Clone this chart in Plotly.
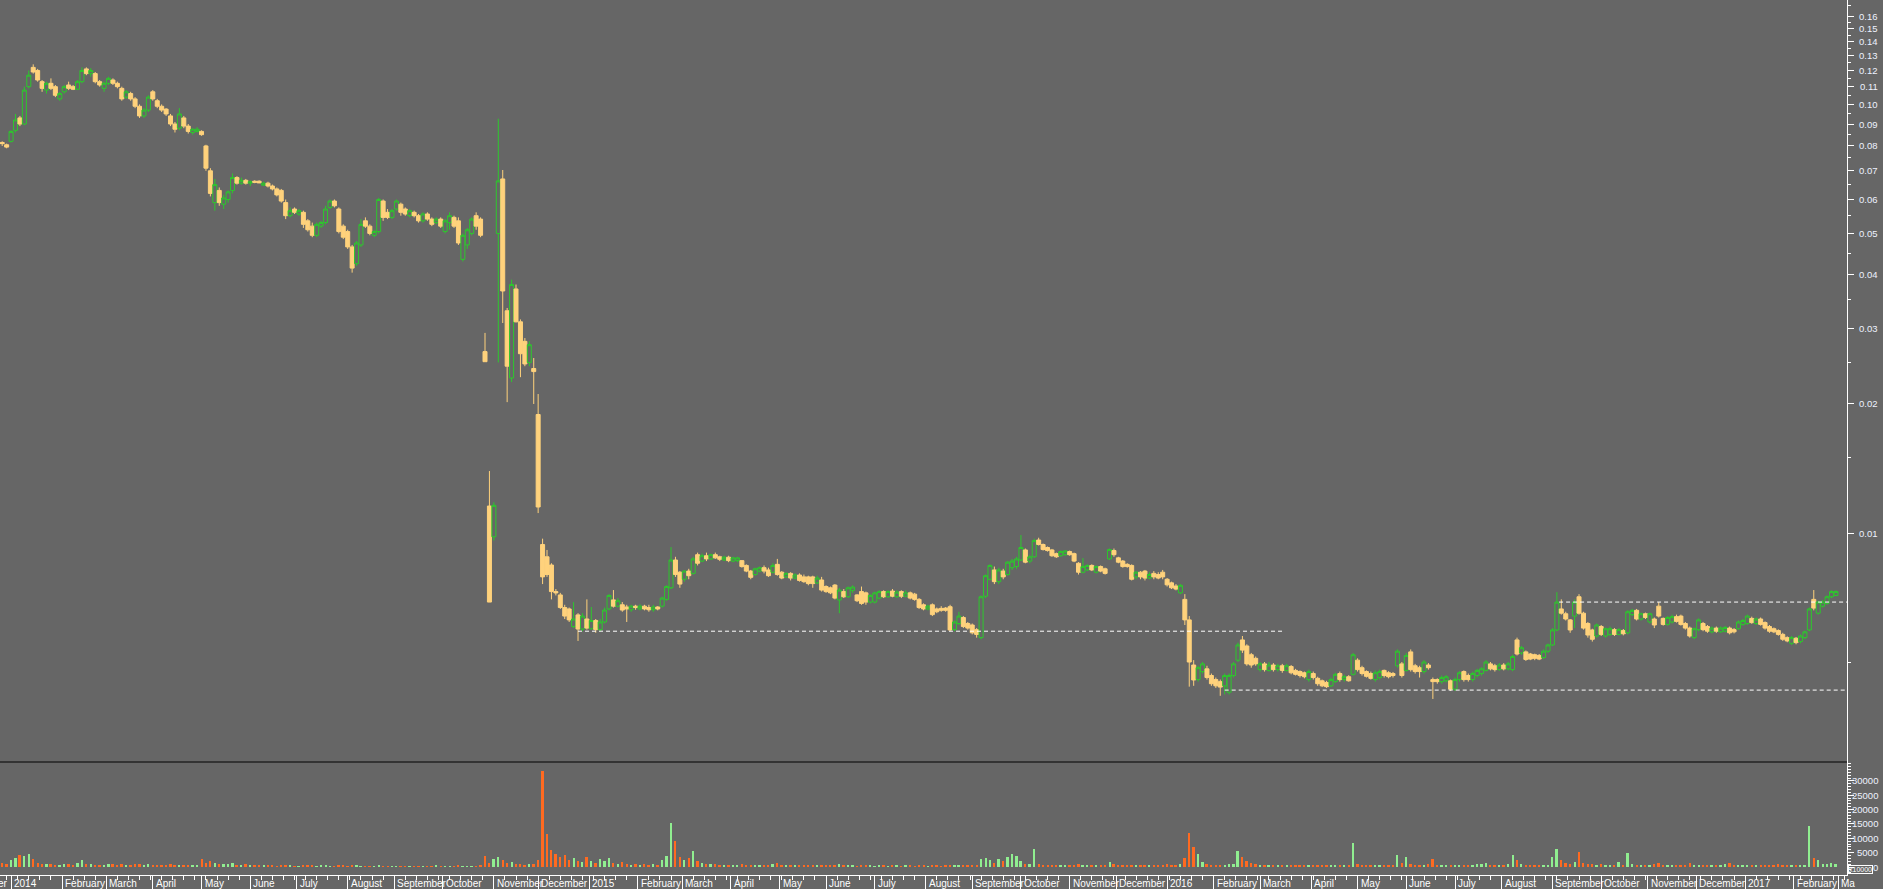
import math
import pandas as pd
import plotly.graph_objects as go

# ---------------- data ----------------
# one candle every second trading day, starting 26 Dec 2013
START = "2013-12-26"
N_DAYS = 834
STEP = 2

# prices in units of 0.00001
open_1e5 = [
    8150, 8050, 8200, 8700, 9300, 9000, 11000, 12200, 12000, 11300,
    10800, 11200, 11000, 10300, 10700, 11100, 11000, 10850, 11300, 12100,
    11800, 11800, 11300, 10900, 11200, 11400, 11200, 10900, 10400, 10600,
    10300, 9900, 9400, 9700, 10700, 10200, 9900, 9750, 9400, 9000,
    8800, 9300, 8900, 8600, 8650, 8650, 8000, 7000, 5900, 6300,
    5850, 6000, 6300, 6750, 6550, 6650, 6550, 6620, 6620, 6480,
    6550, 6450, 6350, 6300, 5900, 5500, 5700, 5550, 5600, 5350,
    5200, 4950, 5200, 5300, 5750, 5950, 5700, 5200, 5050, 4650,
    4250, 4700, 5350, 5200, 4950, 5050, 5950, 5600, 5450, 5700,
    5850, 5700, 5500, 5600, 5500, 5350, 5550, 5400, 5300, 5400,
    5050, 5300, 5450, 5350, 4350, 4700, 5000, 5500, 5400, 2650,
    1156, 980, 5000, 6700, 3300, 2300, 3710, 3110, 2800, 2500,
    2420, 1890, 940, 880, 842, 730, 717, 670, 665, 605,
    644, 597, 630, 598, 625, 595, 620, 665, 698, 675,
    680, 672, 662, 675, 665, 675, 670, 662, 672, 675,
    700, 745, 865, 810, 780, 815, 805, 890, 860, 885,
    870, 890, 880, 865, 878, 860, 862, 862, 840, 815,
    800, 815, 830, 820, 810, 845, 810, 790, 805, 785,
    798, 790, 790, 790, 765, 777, 750, 745, 756, 698,
    730, 710, 735, 717, 730, 725, 690, 690, 705, 730,
    710, 732, 710, 730, 712, 725, 720, 700, 680, 665,
    680, 665, 667, 668, 673, 595, 615, 635, 615, 610,
    595, 570, 712, 780, 820, 770, 815, 800, 830, 835,
    865, 913, 860, 880, 963, 940, 925, 913, 895, 885,
    890, 905, 895, 850, 810, 820, 840, 810, 835, 825,
    870, 910, 875, 860, 845, 840, 790, 810, 815, 785,
    805, 800, 810, 780, 765, 752, 725, 700, 627, 492,
    455, 475, 482, 465, 455, 450, 440, 425, 465, 505,
    563, 545, 520, 510, 480, 495, 478, 492, 480, 490,
    478, 488, 478, 475, 472, 455, 470, 458, 452, 448,
    440, 450, 470, 455, 462, 468, 505, 485, 475, 470,
    455, 460, 478, 472, 470, 490, 495, 478, 528, 490,
    485, 475, 492, 455, 455, 450, 452, 452, 432, 455,
    475, 465, 455, 465, 470, 478, 495, 490, 480, 492,
    482, 480, 563, 525, 528, 522, 520, 518, 512, 530,
    548, 594, 665, 648, 627, 640, 710, 650, 615, 594,
    575, 605, 575, 580, 595, 580, 592, 585, 645, 660,
    630, 648, 620, 630, 675, 632, 612, 620, 638, 640,
    615, 600, 570, 595, 615, 605, 588, 600, 588, 590,
    600, 595, 598, 612, 615, 632, 615, 630, 618, 605,
    598, 592, 580, 570, 553, 568, 558, 570, 594, 700,
    650, 675, 685, 710, 715,
]
high_1e5 = [
    8200, 8100, 8700, 9500, 9400, 11000, 12000, 12400, 12100, 11400,
    11300, 11500, 11100, 10700, 11100, 11300, 11100, 11400, 12200, 12200,
    12150, 11900, 11400, 11300, 11600, 11500, 11300, 11000, 10800, 10700,
    10400, 10000, 9800, 10500, 10800, 10300, 10000, 9800, 9500, 9100,
    9800, 9400, 9000, 8800, 8850, 8700, 8050, 7100, 6700, 6400,
    6150, 6300, 6900, 6800, 6750, 6700, 6650, 6650, 6650, 6600,
    6600, 6500, 6400, 6350, 6000, 5750, 5750, 5700, 5650, 5400,
    5300, 5300, 5350, 5800, 6000, 6000, 5750, 5250, 5100, 4700,
    4800, 5400, 5450, 5250, 5100, 6050, 6000, 5700, 5700, 6000,
    5900, 5750, 5700, 5650, 5550, 5600, 5600, 5450, 5450, 5450,
    5400, 5600, 5500, 5450, 5000, 5150, 5450, 5600, 5450, 2930,
    1395, 1180, 9260, 7030, 3350, 3900, 3800, 3150, 2850, 2800,
    2560, 2110, 970, 913, 850, 740, 725, 680, 670, 690,
    650, 650, 700, 672, 630, 630, 670, 720, 736, 705,
    690, 680, 680, 680, 682, 680, 680, 680, 675, 710,
    755, 927, 880, 815, 820, 825, 880, 900, 895, 900,
    895, 900, 885, 885, 885, 880, 880, 865, 845, 820,
    830, 835, 840, 830, 850, 870, 815, 810, 810, 805,
    805, 800, 795, 795, 795, 790, 755, 750, 760, 745,
    740, 750, 755, 720, 750, 730, 720, 730, 735, 735,
    735, 740, 735, 735, 735, 730, 725, 705, 685, 680,
    685, 670, 675, 672, 680, 625, 655, 640, 620, 615,
    600, 715, 800, 845, 835, 830, 825, 860, 870, 880,
    989, 920, 890, 970, 975, 945, 930, 918, 900, 910,
    912, 910, 900, 855, 874, 845, 845, 840, 840, 830,
    920, 920, 880, 865, 850, 845, 815, 815, 820, 810,
    815, 810, 820, 785, 770, 760, 760, 720, 640, 505,
    490, 500, 490, 470, 460, 455, 470, 470, 500, 555,
    575, 550, 525, 515, 500, 500, 500, 497, 495, 495,
    495, 492, 482, 478, 475, 480, 475, 462, 455, 452,
    460, 472, 475, 467, 466, 525, 510, 490, 478, 475,
    478, 480, 480, 476, 474, 535, 500, 525, 535, 495,
    490, 505, 497, 460, 458, 465, 466, 455, 460, 476,
    478, 470, 475, 482, 486, 505, 500, 495, 497, 497,
    500, 520, 570, 545, 532, 525, 523, 522, 535, 552,
    600, 728, 700, 655, 630, 700, 720, 655, 620, 598,
    615, 610, 602, 605, 600, 600, 597, 660, 665, 665,
    652, 652, 652, 635, 690, 635, 640, 645, 645, 645,
    620, 605, 602, 632, 620, 610, 605, 605, 605, 607,
    605, 600, 625, 630, 645, 638, 635, 635, 622, 610,
    602, 596, 585, 574, 575, 572, 580, 592, 670, 736,
    695, 698, 715, 735, 735,
]
low_1e5 = [
    8000, 7900, 8150, 8600, 8900, 8950, 10900, 11800, 11300, 10700,
    10600, 10800, 10400, 10200, 10600, 10800, 10800, 10800, 11200, 11700,
    11600, 11200, 11000, 10700, 11100, 11100, 10900, 10200, 10300, 10200,
    9800, 9300, 9300, 9600, 10200, 9800, 9600, 9400, 8900, 8600,
    8700, 8800, 8550, 8500, 8600, 8450, 7000, 6100, 5650, 5800,
    5700, 5900, 6200, 6500, 6500, 6500, 6450, 6550, 6550, 6450,
    6400, 6300, 6100, 5900, 5400, 5450, 5550, 5500, 5150, 5050,
    4900, 4900, 5150, 5250, 5700, 5750, 5000, 4850, 4600, 4050,
    4200, 4650, 5150, 4950, 4900, 5000, 5350, 5400, 5400, 5650,
    5500, 5500, 5450, 5450, 5300, 5300, 5350, 5200, 5250, 5150,
    5000, 5100, 5150, 4700, 4300, 4600, 4950, 5100, 4900, 2510,
    690, 960, 2500, 3090, 2020, 2250, 3100, 2310, 2450, 2450,
    2000, 1113, 760, 790, 700, 715, 665, 630, 620, 600,
    560, 590, 595, 595, 585, 590, 615, 660, 670, 670,
    655, 620, 655, 662, 660, 660, 655, 655, 660, 670,
    695, 740, 790, 745, 770, 780, 800, 840, 855, 860,
    865, 870, 860, 860, 855, 855, 855, 830, 810, 780,
    795, 810, 805, 790, 805, 795, 780, 785, 775, 780,
    770, 765, 755, 745, 760, 730, 725, 720, 700, 650,
    705, 705, 725, 690, 680, 680, 685, 685, 700, 705,
    705, 708, 705, 705, 708, 700, 695, 665, 660, 660,
    640, 650, 655, 655, 590, 590, 610, 600, 595, 580,
    570, 565, 705, 775, 760, 760, 780, 795, 820, 825,
    860, 850, 850, 875, 935, 910, 905, 880, 875, 880,
    885, 885, 855, 800, 805, 815, 815, 805, 810, 800,
    865, 880, 850, 830, 830, 775, 780, 780, 775, 780,
    780, 780, 780, 750, 740, 735, 720, 610, 438, 440,
    450, 470, 455, 440, 435, 417, 420, 420, 460, 500,
    525, 490, 485, 490, 475, 475, 475, 475, 475, 472,
    475, 468, 465, 460, 458, 450, 455, 440, 437, 435,
    437, 447, 450, 450, 450, 465, 475, 465, 460, 455,
    450, 455, 460, 458, 460, 485, 460, 475, 475, 470,
    460, 470, 480, 410, 445, 445, 448, 428, 428, 450,
    450, 450, 450, 460, 465, 475, 478, 475, 477, 478,
    478, 476, 518, 520, 503, 505, 505, 505, 508, 525,
    545, 590, 645, 625, 585, 600, 645, 595, 570, 558,
    570, 575, 570, 575, 575, 577, 577, 580, 640, 625,
    625, 630, 615, 600, 635, 608, 608, 615, 618, 608,
    595, 570, 565, 590, 590, 585, 583, 585, 585, 586,
    580, 583, 595, 608, 610, 614, 610, 608, 595, 585,
    584, 576, 560, 556, 548, 550, 553, 565, 590, 660,
    645, 670, 680, 705, 712,
]
close_1e5 = [
    8100, 7950, 8650, 9200, 9000, 10800, 11700, 11900, 11400, 10900,
    11200, 10900, 10500, 10600, 11000, 10900, 10850, 11300, 12000, 11800,
    12000, 11300, 11100, 11200, 11500, 11200, 11000, 10300, 10700, 10300,
    9900, 9400, 9700, 10400, 10300, 9900, 9700, 9500, 9000, 8750,
    9500, 8900, 8650, 8750, 8750, 8500, 7100, 6200, 6500, 5900,
    6050, 6250, 6750, 6550, 6650, 6550, 6600, 6580, 6560, 6550,
    6450, 6350, 6150, 5950, 5500, 5650, 5600, 5650, 5250, 5100,
    4950, 5250, 5300, 5700, 5950, 5800, 5050, 4900, 4650, 4150,
    4750, 5250, 5200, 5000, 5050, 6000, 5450, 5450, 5650, 5950,
    5600, 5550, 5650, 5500, 5350, 5550, 5400, 5250, 5400, 5200,
    5350, 5500, 5200, 4750, 4950, 5100, 5400, 5200, 4950, 2510,
    690, 1160, 6630, 3670, 2450, 3800, 3110, 2620, 2480, 2750,
    2380, 1150, 790, 800, 730, 725, 670, 640, 627, 630,
    597, 640, 600, 625, 595, 620, 661, 715, 675, 695,
    661, 665, 675, 670, 675, 665, 662, 672, 665, 705,
    750, 865, 800, 760, 815, 795, 870, 850, 885, 870,
    890, 875, 868, 878, 862, 875, 875, 835, 815, 788,
    825, 830, 815, 795, 840, 800, 785, 805, 785, 798,
    775, 770, 762, 762, 785, 736, 730, 725, 705, 736,
    710, 745, 748, 695, 685, 690, 715, 725, 730, 710,
    730, 712, 728, 712, 725, 705, 700, 670, 665, 675,
    645, 655, 660, 660, 594, 620, 640, 605, 600, 585,
    580, 710, 795, 840, 770, 820, 790, 855, 860, 870,
    925, 855, 880, 960, 940, 915, 910, 885, 880, 905,
    908, 890, 860, 810, 835, 840, 820, 835, 815, 805,
    915, 890, 855, 835, 835, 780, 810, 790, 785, 800,
    790, 785, 790, 757, 745, 740, 755, 627, 500, 454,
    485, 495, 460, 445, 440, 437, 465, 465, 495, 548,
    533, 495, 492, 495, 495, 480, 492, 480, 490, 478,
    490, 472, 468, 465, 462, 475, 460, 445, 440, 438,
    455, 468, 455, 462, 452, 520, 480, 470, 463, 458,
    472, 475, 465, 462, 465, 530, 465, 518, 480, 475,
    475, 500, 485, 450, 450, 460, 462, 432, 455, 472,
    455, 455, 470, 478, 482, 500, 482, 480, 492, 482,
    495, 515, 522, 540, 507, 508, 510, 508, 530, 548,
    594, 690, 650, 630, 594, 690, 650, 600, 578, 565,
    610, 580, 598, 598, 580, 595, 582, 655, 660, 630,
    648, 635, 648, 610, 640, 612, 635, 638, 622, 612,
    600, 575, 598, 627, 595, 590, 600, 590, 600, 602,
    585, 588, 620, 625, 640, 618, 630, 612, 600, 590,
    588, 580, 565, 560, 570, 555, 575, 588, 665, 668,
    690, 690, 710, 730, 730,
]
# volume in units of 10000 shares (as on the volume axis)
volume_x1e4 = [
    1500, 1200, 2500, 3200, 4200, 3800, 4600, 2800, 1500, 1200,
    900, 1100, 800, 700, 900, 1200, 800, 1500, 2300, 1100,
    900, 700, 800, 600, 900, 1200, 700, 1000, 800, 600,
    1100, 900, 700, 1000, 600, 700, 500, 800, 900, 700,
    600, 500, 700, 600, 500, 2800, 1500, 2000, 1400, 1200,
    900, 1000, 1300, 700, 600, 900, 500, 600, 400, 500,
    600, 400, 300, 500, 700, 400, 300, 300, 500, 400,
    600, 300, 400, 500, 300, 200, 600, 400, 300, 500,
    400, 300, 200, 300, 200, 500, 300, 200, 300, 200,
    300, 200, 100, 200, 300, 200, 100, 300, 400, 200,
    300, 200, 300, 400, 300, 200, 300, 200, 400, 3800,
    1500, 2800, 3500, 2500, 1500, 1800, 1200, 1000, 800, 900,
    1200, 2500, 33400, 11500, 6000, 4500, 3500, 4200, 2500, 3000,
    2000, 1800, 3500, 2200, 1500, 2800, 2000, 3000, 1500, 1200,
    1800, 1000, 800, 1200, 600, 900, 700, 1000, 800, 2500,
    4000, 15500, 9000, 3500, 2500, 3000, 5500, 2000, 1500, 1200,
    1000, 900, 800, 600, 700, 500, 600, 900, 700, 800,
    600, 500, 400, 700, 900, 1500, 600, 500, 400, 600,
    500, 400, 700, 500, 800, 600, 500, 400, 600, 900,
    500, 400, 600, 300, 800, 500, 400, 300, 500, 400,
    300, 500, 400, 300, 500, 400, 300, 400, 500, 300,
    700, 400, 300, 500, 800, 600, 700, 500, 600, 400,
    600, 2800, 3000, 2500, 1500, 2800, 2000, 3500, 4400, 4000,
    2000, 1000, 1200, 6400, 1200, 800, 600, 500, 700, 600,
    400, 500, 600, 900, 700, 500, 400, 600, 500, 400,
    1600, 900, 700, 600, 500, 800, 600, 500, 700, 600,
    500, 700, 600, 900, 700, 600, 1200, 3000, 11800, 7000,
    4600, 1700, 1000, 800, 600, 700, 500, 900, 1200, 5600,
    3500, 2000, 1500, 1000, 700, 600, 500, 800, 600, 500,
    400, 600, 700, 500, 400, 600, 500, 400, 600, 500,
    700, 600, 500, 400, 500, 8400, 1200, 800, 600, 500,
    700, 600, 500, 400, 500, 4200, 1500, 3500, 1200, 800,
    600, 700, 900, 2700, 800, 600, 500, 700, 400, 600,
    500, 700, 600, 900, 1000, 1500, 800, 600, 500, 700,
    900, 4200, 2500, 1000, 800, 600, 700, 500, 600, 700,
    3500, 6300, 2500, 1500, 1200, 1800, 5100, 1500, 1000, 900,
    800, 1200, 600, 700, 500, 1800, 700, 4900, 1200, 800,
    600, 500, 700, 1200, 1500, 800, 600, 500, 700, 600,
    500, 1300, 800, 600, 500, 700, 600, 500, 600, 1000,
    1500, 700, 600, 800, 700, 500, 600, 700, 500, 600,
    500, 1200, 700, 600, 500, 600, 800, 700, 14300, 3300,
    2500, 1200, 1000, 1500, 1200,
]
# horizontal dashed support / resistance lines
line_level = [0.0059, 0.0043, 0.0069]
line_start = ["2014-12-25", "2016-02-08", "2016-09-06"]
line_end = ["2016-03-15", "2017-03-07", "2017-03-07"]

price_ticks = [0.01, 0.02, 0.03, 0.04, 0.05, 0.06, 0.07, 0.08, 0.09, 0.10,
               0.11, 0.12, 0.13, 0.14, 0.15, 0.16]
price_minor = [0.005, 0.015, 0.025, 0.035, 0.045, 0.055, 0.065, 0.075, 0.085,
               0.095, 0.105, 0.115, 0.125, 0.135, 0.145, 0.155, 0.17]
vol_ticks = [0, 5000, 10000, 15000, 20000, 25000, 30000]

# ---------------- styling ----------------
BG = "#666666"
WHITE = "#FFFFFF"
LABEL = "#EEF2FF"
GREEN = "#2DC82D"
YELLOW = "#FFD27C"
VOL_UP = "#90EE90"
VOL_DN = "#FF6A20"
FONT = "Liberation Sans, Arial, sans-serif"

W, H = 1883, 889
M_R, M_B = 2, 14
PLOT_W = W - M_R
PLOT_H = H - M_B
XD = 1847 / PLOT_W               # x-axis domain end (right price axis position)
SPLIT = (PLOT_H - 762) / PLOT_H  # price / volume panel split

days = pd.bdate_range(START, periods=N_DAYS)
n = len(close_1e5)
xi = list(range(0, STEP * n, STEP))
o = [v / 1e5 for v in open_1e5]
h = [v / 1e5 for v in high_1e5]
l = [v / 1e5 for v in low_1e5]
c = [v / 1e5 for v in close_1e5]
vol_colors = [VOL_UP if cc >= oo else VOL_DN for oo, cc in zip(o, c)]

month_idx = [i for i in range(1, len(days)) if days[i].month != days[i - 1].month]
month_txt = [str(days[i].year) if days[i].month == 1 else days[i].strftime("%B")
             for i in month_idx]
month_txt[-1] = month_txt[-1][:2]   # clipped at the right edge in the original
monday_idx = [i for i in range(len(days)) if days[i].weekday() == 0 and i not in month_idx]

fig = go.Figure()
fig.add_trace(go.Candlestick(
    x=xi, open=o, high=h, low=l, close=c,
    increasing=dict(line=dict(color=GREEN, width=1), fillcolor=BG),
    decreasing=dict(line=dict(color=YELLOW, width=1), fillcolor=YELLOW),
    whiskerwidth=0, xaxis="x", yaxis="y", hoverinfo="skip", showlegend=False,
))
for lvl, s, e in zip(line_level, line_start, line_end):
    fig.add_trace(go.Scatter(
        x=[days.get_loc(pd.Timestamp(s)), days.get_loc(pd.Timestamp(e))],
        y=[lvl, lvl], mode="lines",
        line=dict(color=WHITE, width=1, dash="4px,3px"),
        xaxis="x", yaxis="y", hoverinfo="skip", showlegend=False,
    ))
fig.add_trace(go.Bar(
    x=xi, y=volume_x1e4, marker=dict(color=vol_colors, line=dict(width=0)),
    width=0.9, xaxis="x", yaxis="y2", hoverinfo="skip", showlegend=False,
))

PR = [-2.5343, -0.7564]
VR = [-2787, 36585]
lab_font = dict(family=FONT, size=9.5, color=LABEL)
month_font = dict(family=FONT, size=10, color=WHITE)

annotations = []
# month labels, left-aligned just right of each month separator
for i, txt in zip(month_idx, month_txt):
    annotations.append(dict(text=txt, xref="x", x=i, xanchor="left", xshift=1,
                            yref="paper", y=0, yanchor="top", yshift=-1,
                            showarrow=False, font=month_font))
annotations.append(dict(text="er", xref="x", x=month_idx[0], xanchor="right", xshift=-1,
                        yref="paper", y=0, yanchor="top", yshift=-1,
                        showarrow=False, font=month_font))
# right-aligned price labels (log axis -> log10 positions)
for v in price_ticks:
    annotations.append(dict(text=f"{v:.2f}", xref="paper", x=1, xanchor="right", xshift=-1,
                            yref="y", y=math.log10(v), yanchor="middle",
                            showarrow=False, font=lab_font))
# right-aligned volume labels
for v in vol_ticks:
    annotations.append(dict(text=str(v), xref="paper", x=1, xanchor="right", xshift=-1,
                            yref="y2", y=v, yanchor="middle",
                            showarrow=False, font=lab_font))
annotations.append(dict(text="x10000", xref="paper", yref="paper", x=XD, y=0, xanchor="left",
                        yanchor="bottom", xshift=1, yshift=1, showarrow=False,
                        font=dict(family=FONT, size=7, color=WHITE),
                        bordercolor=WHITE, borderwidth=1, borderpad=0))

fig.update_layout(
    width=W, height=H, paper_bgcolor=BG, plot_bgcolor=BG,
    margin=dict(l=0, r=M_R, t=0, b=M_B, pad=0, autoexpand=False),
    showlegend=False, boxgap=0.05, boxgroupgap=0.05, bargap=0,
    xaxis=dict(
        domain=[0, XD], range=[-1, 833], anchor="y2", showgrid=False, zeroline=False,
        automargin=False, showline=True, linecolor=WHITE, linewidth=1,
        tickmode="array", tickvals=month_idx, showticklabels=False,
        ticks="outside", ticklen=14, tickwidth=1, tickcolor=WHITE,
        minor=dict(tickvals=monday_idx, ticks="outside", ticklen=4, tickwidth=1, tickcolor=WHITE),
        rangeslider=dict(visible=False), fixedrange=True,
    ),
    yaxis=dict(
        domain=[SPLIT, 1], anchor="x", side="right", type="log", range=PR,
        automargin=False, showgrid=False, zeroline=False,
        showline=True, linecolor=WHITE, linewidth=1,
        tickmode="array", tickvals=price_ticks, ticks="outside", ticklen=6,
        tickcolor=WHITE, showticklabels=False,
        minor=dict(tickvals=price_minor, ticks="outside", ticklen=3, tickcolor=WHITE),
        fixedrange=True,
    ),
    yaxis2=dict(
        domain=[0, SPLIT], anchor="x", side="right", range=VR,
        automargin=False, showgrid=False, zeroline=False,
        showline=True, linecolor=WHITE, linewidth=1,
        tickmode="array", tickvals=vol_ticks, ticks="outside", ticklen=6,
        tickcolor=WHITE, showticklabels=False,
        minor=dict(dtick=1000, tick0=0, ticks="outside", ticklen=3, tickcolor=WHITE),
        fixedrange=True,
    ),
    shapes=[dict(type="line", xref="paper", yref="paper", x0=0, x1=XD, y0=SPLIT, y1=SPLIT,
                 line=dict(color="#000000", width=1))],
    annotations=annotations,
)

# the page's default 8px body margin would push the 1883x889 figure out of the window
fig.write_html(
    "out.html",
    config={"displayModeBar": False},
    post_script="document.body.style.margin='0';document.body.style.overflow='hidden';"
                "document.body.style.background='#666666';",
)
